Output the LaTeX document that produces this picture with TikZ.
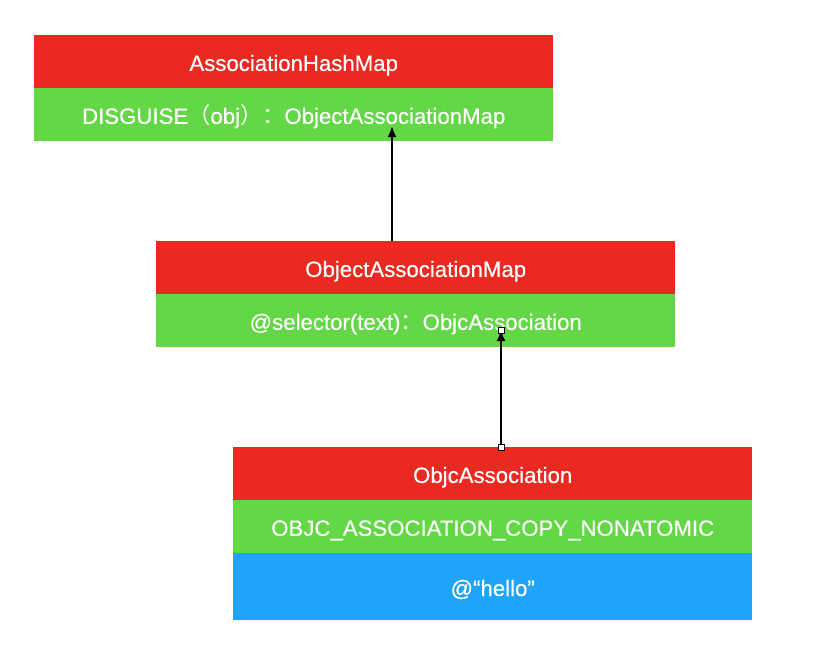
\documentclass[tikz,border=0pt]{standalone}
\usepackage{fontspec}
\setmainfont{Liberation Sans}
\newfontfamily\cjk{Noto Sans CJK SC}
\usetikzlibrary{arrows.meta, positioning}

\definecolor{hdred}{RGB}{234,41,32}
\definecolor{rowgreen}{RGB}{99,215,70}
\definecolor{rowblue}{RGB}{30,164,250}

\begin{document}
\begin{tikzpicture}[
    x=1pt, y=-1pt,
    node distance=0pt,
    box/.style={rectangle, minimum width=519pt, minimum height=52.5pt, inner sep=0pt,
                text height=19pt, text depth=0pt,
                text=white, font=\fontsize{22.2}{26}\selectfont\addfontfeature{FakeBold=0.4}},
    head/.style={box, fill=hdred},
    field/.style={box, fill=rowgreen},
    value/.style={box, fill=rowblue, minimum height=67pt},
    handle/.style={rectangle, draw, fill=white, line width=0.8pt, minimum size=6pt, inner sep=0pt},
    link/.style={line width=2pt, -{Latex[length=11pt, width=9pt]}}
]
\useasboundingbox (0,0) rectangle (820,661);

\node[head, anchor=north west] (h1) at (34,35) {AssociationHashMap};
\node[field, below=of h1] (f1) {DISGUISE{\cjk （}obj{\cjk ）：}ObjectAssociationMap};

\node[head, anchor=north west] (h2) at (156,241) {ObjectAssociationMap};
\node[field, below=of h2] (f2) {@selector(text){\cjk ：}ObjcAssociation};

\node[head, anchor=north west] (h3) at (233,447) {ObjcAssociation};
\node[field, below=of h3] (f3) {OBJC\_ASSOCIATION\_COPY\_NONATOMIC};
\node[value, below=of f3] (v3) {@“hello”};

\coordinate (t1) at (392,126);
\coordinate (t2) at (501,330);

\draw[link] (h2.north -| t1) -- (t1);
\draw[link] (h3.north -| t2) -- (t2);

\node[handle] (s1) at (t2) {};
\node[handle] (s2) at (h3.north -| t2) {};

\end{tikzpicture}
\end{document}
